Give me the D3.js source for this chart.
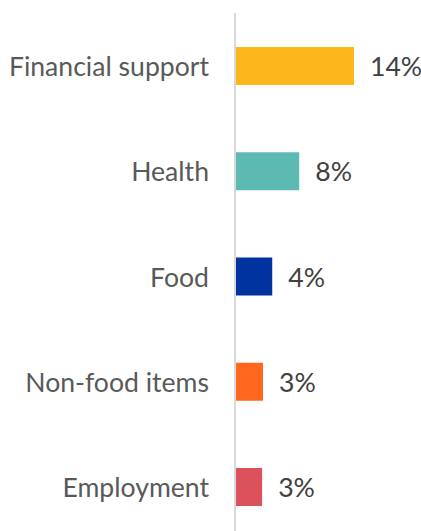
<!DOCTYPE html>
<html><head><meta charset="utf-8">
<script src="https://cdn.jsdelivr.net/npm/d3@7"></script>
<style>html,body{margin:0;padding:0;background:#fff;}svg{display:block;}</style>
</head><body>
<svg id="chart" width="421" height="531"></svg>
<script>
const categories = ["Financial support", "Health", "Food", "Non-food items", "Employment"];
const values = [14.0, 7.5, 4.3, 3.2, 3.1];
const labels = ["14%", "8%", "4%", "3%", "3%"];
const colors = ["#FDB71A", "#5DBAB3", "#0033A0", "#FF671F", "#DB525C"];

const svg = d3.select("#chart");
const x0 = 236;
const x = d3.scaleLinear().domain([0, 14]).range([x0, 354]);
const y = d3.scaleBand().domain(categories).range([13, 540]).paddingInner(0.639).paddingOuter(0.323);

svg.append("line").attr("x1", 235).attr("x2", 235).attr("y1", 13).attr("y2", 531)
  .attr("stroke", "#d9d9d9").attr("stroke-width", 2);

svg.selectAll("rect.bar").data(categories).join("rect").attr("class", "bar")
  .attr("x", x0).attr("y", d => y(d)).attr("height", y.bandwidth())
  .attr("width", (d, i) => x(values[i]) - x0).attr("fill", (d, i) => colors[i]);

svg.selectAll("text.val").data(categories).join("text").attr("class", "val")
  .attr("x", (d, i) => x(values[i]) + 16).attr("y", d => y(d) + y.bandwidth() / 2)
  .attr("dy", "0.38em").attr("font-family", "Lato, sans-serif").attr("font-size", 26.6)
  .attr("fill", "#404040").text((d, i) => labels[i]);

svg.selectAll("text.cat").data(categories).join("text").attr("class", "cat")
  .attr("x", 209).attr("y", d => y(d) + y.bandwidth() / 2)
  .attr("dy", "0.38em").attr("text-anchor", "end").attr("font-family", "Lato, sans-serif").attr("font-size", 26.6)
  .attr("fill", "#595959").text(d => d);
</script>
</body></html>
